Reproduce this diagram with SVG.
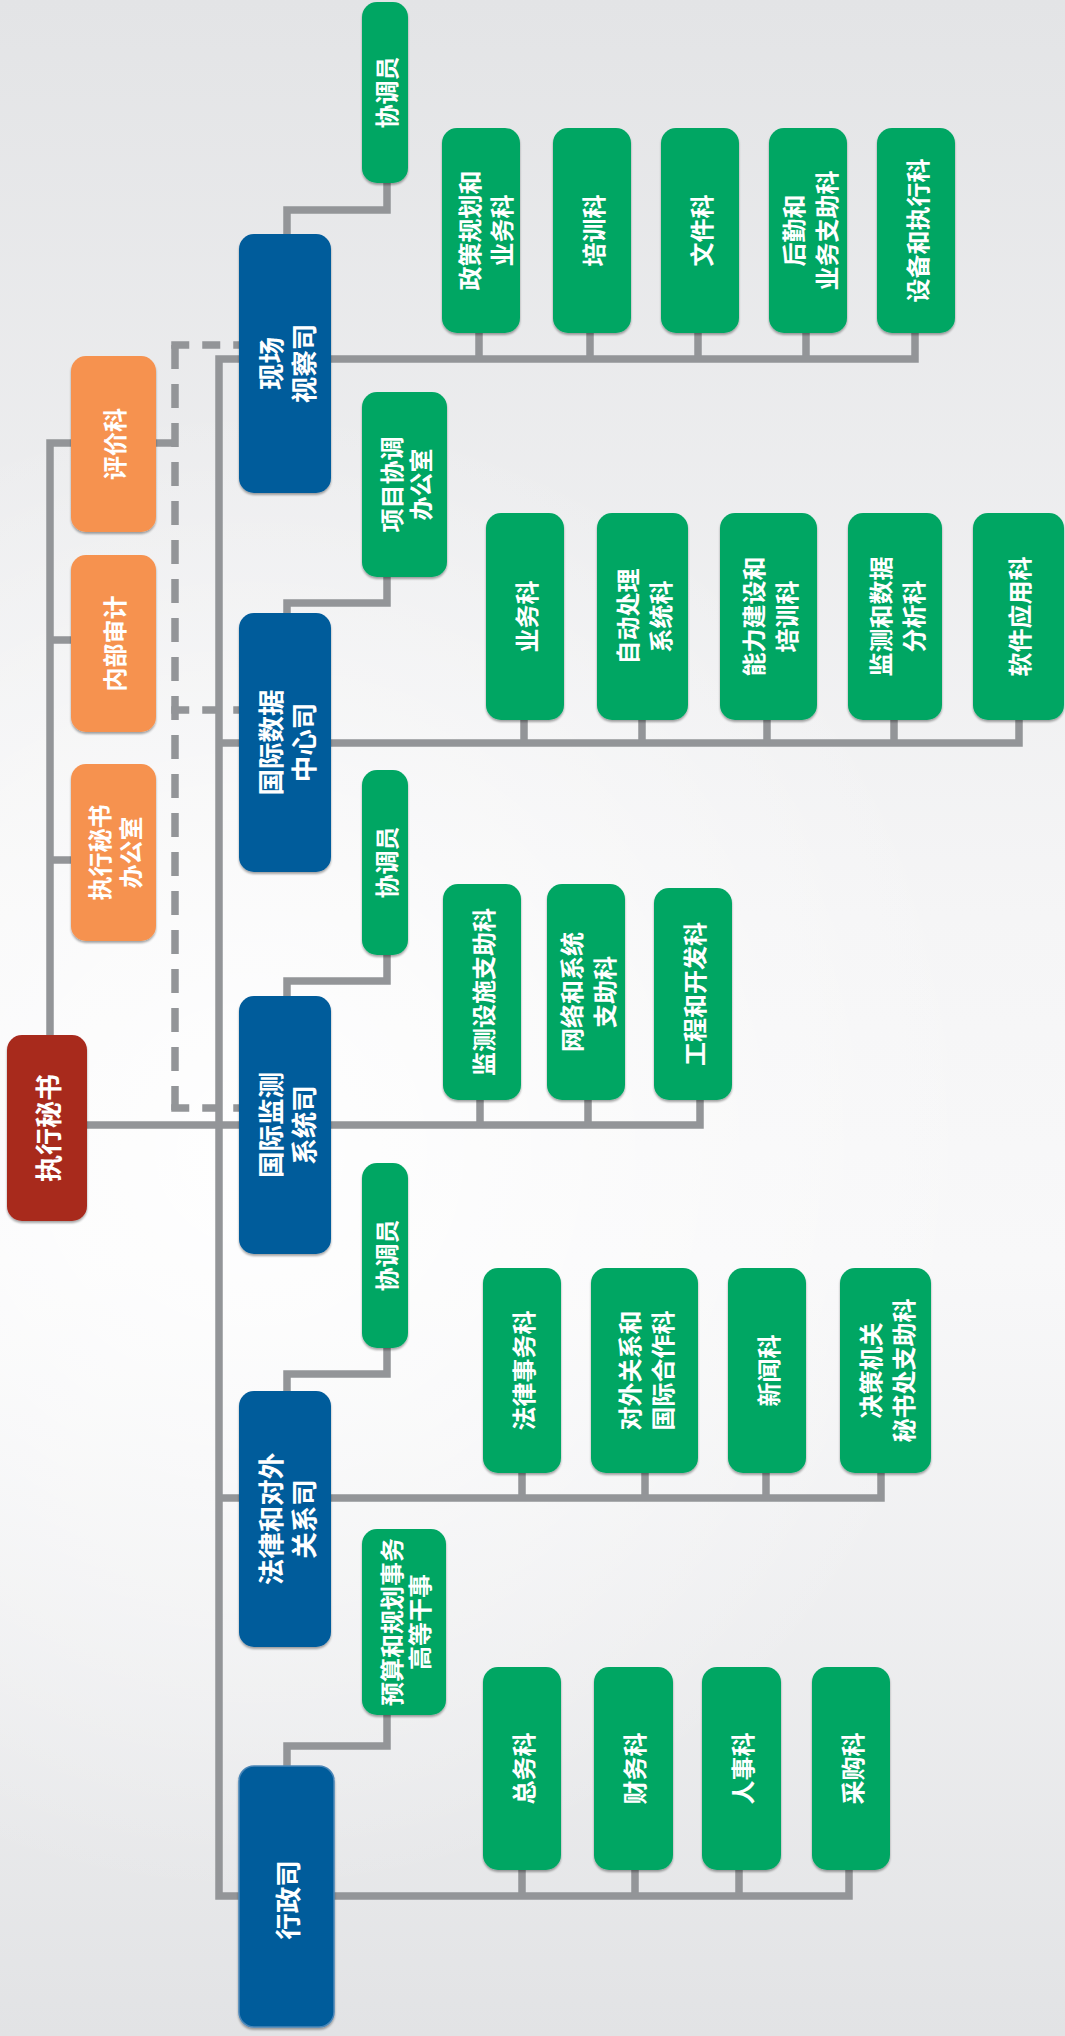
<svg xmlns="http://www.w3.org/2000/svg" width="1065" height="2036" viewBox="0 0 1065 2036">
<defs>
<linearGradient id="bg" x1="0" y1="0" x2="0" y2="1">
<stop offset="0" stop-color="#e3e4e6"/>
<stop offset="0.45" stop-color="#f5f5f6"/>
<stop offset="0.62" stop-color="#f8f8f9"/>
<stop offset="1" stop-color="#e2e3e5"/>
</linearGradient>
<radialGradient id="hl" cx="250" cy="1150" r="750" gradientUnits="userSpaceOnUse">
<stop offset="0" stop-color="#ffffff" stop-opacity="0.9"/>
<stop offset="1" stop-color="#ffffff" stop-opacity="0"/>
</radialGradient>
<filter id="sh" x="-20%" y="-10%" width="140%" height="120%">
<feDropShadow dx="0" dy="2" stdDeviation="1" flood-color="#000" flood-opacity="0.35"/>
</filter>
<style>
.g{fill:#00a664}
.b{fill:#005b9b}
.o{fill:#f6924f}
.r{fill:#a8291e}
.n rect{filter:url(#sh)}
.t,.t tspan{font-family:'Noto Sans CJK SC','Noto Sans CJK TC',sans-serif;font-weight:700;font-size:24px;fill:#fff;text-anchor:middle;dominant-baseline:central}
.big,.big tspan{font-size:26.5px}
.red,.red tspan{font-size:27px}
.c{fill:none;stroke:#939598;stroke-width:7.5}
.dv{stroke-dasharray:24 15}
.dh{stroke-dasharray:18 13}
</style>
</defs>
<rect width="1065" height="2036" fill="url(#bg)"/>
<rect width="1065" height="2036" fill="url(#hl)"/>

<g id="connectors">
<path class="c" d="M71,443 H50 V1035"/>
<path class="c" d="M50,640 H71"/>
<path class="c" d="M50,860 H71"/>
<path class="c" d="M156,443 H175"/>
<path class="c dv" d="M175,345 V1112"/>
<path class="c dh" d="M171.25,345 H240"/>
<path class="c dh" d="M171.25,710 H240"/>
<path class="c dh" d="M171.25,1108 H240"/>
<path class="c" d="M915,333 V359 H219 V1896 H849 V1870"/>
<path class="c" d="M479,333 V359 M590,333 V359 M698,333 V359 M806,333 V359"/>
<path class="c" d="M219,743 H1019 V720"/>
<path class="c" d="M524,720 V743 M642,720 V743 M767,720 V743 M894,720 V743"/>
<path class="c" d="M87,1125 H700 V1100"/>
<path class="c" d="M480,1100 V1125 M588,1100 V1125"/>
<path class="c" d="M219,1498 H881 V1472"/>
<path class="c" d="M522,1472 V1498 M645,1472 V1498 M766,1472 V1498"/>
<path class="c" d="M522,1870 V1896 M635,1870 V1896 M739,1870 V1896"/>
<path class="c" d="M387,183 V210 H287 V234"/>
<path class="c" d="M387,577 V603 H287 V613"/>
<path class="c" d="M387,955 V981 H287 V996"/>
<path class="c" d="M387,1348 V1374 H287 V1391"/>
<path class="c" d="M387,1715 V1746 H287 V1766"/>
</g>

<g id="exec-secretary" class="n"><rect class="r" x="7" y="1035" width="80" height="186" rx="15"/>
<text class="t red" transform="translate(47,1128) rotate(-90)">执行秘书</text></g>

<g id="evaluation" class="n"><rect class="o" x="71" y="356" width="85" height="176" rx="15"/>
<text class="t" transform="translate(113.5,444) rotate(-90)">评价科</text></g>
<g id="internal-audit" class="n"><rect class="o" x="71" y="555" width="85" height="177" rx="15"/>
<text class="t" transform="translate(113.5,643.5) rotate(-90)">内部审计</text></g>
<g id="es-office" class="n"><rect class="o" x="71" y="764" width="85" height="177" rx="15"/>
<text class="t" transform="translate(113.5,852.5) rotate(-90)"><tspan x="0" y="-15.5">执行秘书</tspan><tspan x="0" y="15.5">办公室</tspan></text></g>

<g id="osi" class="n"><rect class="b" x="239" y="234" width="92" height="259" rx="15"/>
<text class="t big" transform="translate(285,363.5) rotate(-90)"><tspan x="0" y="-16.5">现场</tspan><tspan x="0" y="16.5">视察司</tspan></text></g>
<g id="osi-coord" class="n"><rect class="g" x="362" y="2" width="46" height="181" rx="15"/>
<text class="t" transform="translate(385,92.5) rotate(-90)">协调员</text></g>
<g id="osi-1" class="n"><rect class="g" x="442" y="128" width="78" height="205" rx="15"/>
<text class="t" transform="translate(484,230.5) rotate(-90)"><tspan x="0" y="-16">政策规划和</tspan><tspan x="0" y="16">业务科</tspan></text></g>
<g id="osi-2" class="n"><rect class="g" x="553" y="128" width="78" height="205" rx="15"/>
<text class="t" transform="translate(592,230.5) rotate(-90)">培训科</text></g>
<g id="osi-3" class="n"><rect class="g" x="661" y="128" width="78" height="205" rx="15"/>
<text class="t" transform="translate(700,230.5) rotate(-90)">文件科</text></g>
<g id="osi-4" class="n"><rect class="g" x="769" y="128" width="78" height="205" rx="15"/>
<text class="t" transform="translate(808,230.5) rotate(-90)"><tspan x="0" y="-16.5">后勤和</tspan><tspan x="0" y="16.5">业务支助科</tspan></text></g>
<g id="osi-5" class="n"><rect class="g" x="877" y="128" width="78" height="205" rx="15"/>
<text class="t" transform="translate(916,230.5) rotate(-90)">设备和执行科</text></g>

<g id="idc" class="n"><rect class="b" x="239" y="613" width="92" height="259" rx="15"/>
<text class="t big" transform="translate(285,742.5) rotate(-90)"><tspan x="0" y="-16.5">国际数据</tspan><tspan x="0" y="16.5">中心司</tspan></text></g>
<g id="idc-coord" class="n"><rect class="g" x="362" y="392" width="85" height="185" rx="15"/>
<text class="t" transform="translate(404.5,484.5) rotate(-90)"><tspan x="0" y="-14.5">项目协调</tspan><tspan x="0" y="14.5">办公室</tspan></text></g>
<g id="idc-1" class="n"><rect class="g" x="486" y="513" width="78" height="207" rx="15"/>
<text class="t" transform="translate(525,616.5) rotate(-90)">业务科</text></g>
<g id="idc-2" class="n"><rect class="g" x="597" y="513" width="91" height="207" rx="15"/>
<text class="t" transform="translate(642.5,616.5) rotate(-90)"><tspan x="0" y="-16.5">自动处理</tspan><tspan x="0" y="16.5">系统科</tspan></text></g>
<g id="idc-3" class="n"><rect class="g" x="720" y="513" width="97" height="207" rx="15"/>
<text class="t" transform="translate(768.5,616.5) rotate(-90)"><tspan x="0" y="-16.5">能力建设和</tspan><tspan x="0" y="16.5">培训科</tspan></text></g>
<g id="idc-4" class="n"><rect class="g" x="848" y="513" width="94" height="207" rx="15"/>
<text class="t" transform="translate(895,616.5) rotate(-90)"><tspan x="0" y="-16.5">监测和数据</tspan><tspan x="0" y="16.5">分析科</tspan></text></g>
<g id="idc-5" class="n"><rect class="g" x="973" y="513" width="91" height="207" rx="15"/>
<text class="t" transform="translate(1018.5,616.5) rotate(-90)">软件应用科</text></g>

<g id="ims" class="n"><rect class="b" x="239" y="996" width="92" height="258" rx="15"/>
<text class="t big" transform="translate(285,1125) rotate(-90)"><tspan x="0" y="-16.5">国际监测</tspan><tspan x="0" y="16.5">系统司</tspan></text></g>
<g id="ims-coord" class="n"><rect class="g" x="362" y="770" width="46" height="185" rx="15"/>
<text class="t" transform="translate(385,862.5) rotate(-90)">协调员</text></g>
<g id="ims-1" class="n"><rect class="g" x="443" y="884" width="78" height="216" rx="15"/>
<text class="t" transform="translate(482,992) rotate(-90)">监测设施支助科</text></g>
<g id="ims-2" class="n"><rect class="g" x="547" y="884" width="78" height="216" rx="15"/>
<text class="t" transform="translate(586,992) rotate(-90)"><tspan x="0" y="-16.5">网络和系统</tspan><tspan x="0" y="16.5">支助科</tspan></text></g>
<g id="ims-3" class="n"><rect class="g" x="654" y="888" width="78" height="212" rx="15"/>
<text class="t" transform="translate(693,994) rotate(-90)">工程和开发科</text></g>

<g id="legal" class="n"><rect class="b" x="239" y="1391" width="92" height="256" rx="15"/>
<text class="t big" transform="translate(285,1519) rotate(-90)"><tspan x="0" y="-16.5">法律和对外</tspan><tspan x="0" y="16.5">关系司</tspan></text></g>
<g id="legal-coord" class="n"><rect class="g" x="362" y="1163" width="46" height="185" rx="15"/>
<text class="t" transform="translate(385,1255.5) rotate(-90)">协调员</text></g>
<g id="legal-1" class="n"><rect class="g" x="483" y="1268" width="78" height="205" rx="15"/>
<text class="t" transform="translate(522,1370.5) rotate(-90)">法律事务科</text></g>
<g id="legal-2" class="n"><rect class="g" x="591" y="1268" width="107" height="205" rx="15"/>
<text class="t" transform="translate(644.5,1370.5) rotate(-90)"><tspan x="0" y="-16.5">对外关系和</tspan><tspan x="0" y="16.5">国际合作科</tspan></text></g>
<g id="legal-3" class="n"><rect class="g" x="728" y="1268" width="78" height="205" rx="15"/>
<text class="t" transform="translate(767,1370.5) rotate(-90)">新闻科</text></g>
<g id="legal-4" class="n"><rect class="g" x="840" y="1268" width="91" height="205" rx="15"/>
<text class="t" transform="translate(885.5,1370.5) rotate(-90)"><tspan x="0" y="-16.5">决策机关</tspan><tspan x="0" y="16.5">秘书处支助科</tspan></text></g>

<g id="admin" class="n"><rect class="b" x="239" y="1766" width="95" height="261" rx="15" stroke="#4a86b8" stroke-width="1.5"/>
<text class="t big" transform="translate(286.5,1900) rotate(-90)">行政司</text></g>
<g id="admin-coord" class="n"><rect class="g" x="362" y="1529" width="84" height="186" rx="15"/>
<text class="t" transform="translate(404,1622) rotate(-90)"><tspan x="0" y="-14">预算和规划事务</tspan><tspan x="0" y="14">高等干事</tspan></text></g>
<g id="admin-1" class="n"><rect class="g" x="483" y="1667" width="78" height="203" rx="15"/>
<text class="t" transform="translate(522,1768.5) rotate(-90)">总务科</text></g>
<g id="admin-2" class="n"><rect class="g" x="594" y="1667" width="79" height="203" rx="15"/>
<text class="t" transform="translate(633.5,1768.5) rotate(-90)">财务科</text></g>
<g id="admin-3" class="n"><rect class="g" x="702" y="1667" width="79" height="203" rx="15"/>
<text class="t" transform="translate(741.5,1768.5) rotate(-90)">人事科</text></g>
<g id="admin-4" class="n"><rect class="g" x="812" y="1667" width="78" height="203" rx="15"/>
<text class="t" transform="translate(851,1768.5) rotate(-90)">采购科</text></g>
</svg>
